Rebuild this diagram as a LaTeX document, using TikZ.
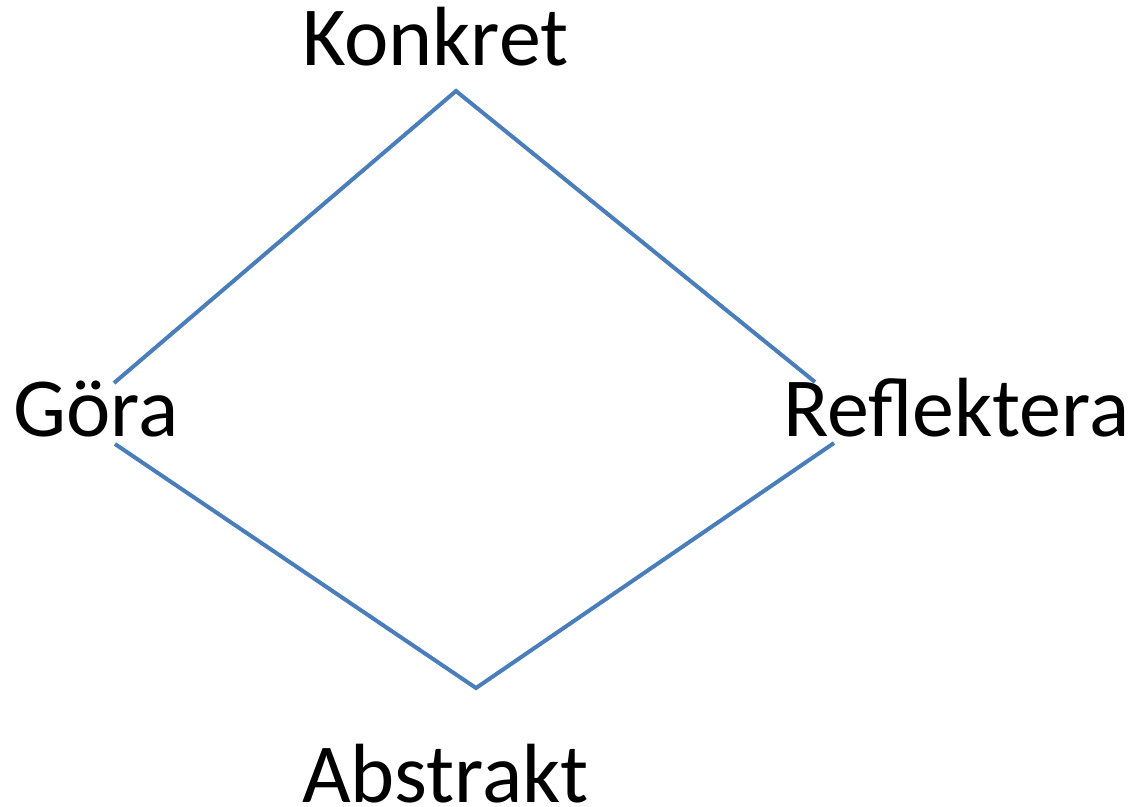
\documentclass[tikz,border=0pt]{standalone}
\usepackage{fontspec}
\setmainfont{Carlito}
\definecolor{lineblue}{HTML}{4A7EBB}
\begin{document}
\begin{tikzpicture}[x=1pt,y=-1pt,
  lbl/.style={inner sep=0pt, anchor=base west, font=\fontsize{84}{100}\selectfont},
  edge/.style={draw=lineblue, line width=4pt}]
\useasboundingbox (0,0) rectangle (1134,806);
\node[lbl] (konkret) at (302,65) {Konkret};
\node[lbl] (gora) at (13,436) {Göra};
\node[lbl] (refl) at (783,436) {Reflektera};
\node[lbl] (abstr) at (302,802) {Abstrakt};
\coordinate (top) at (456,91);
\coordinate (lt) at (114,383);
\coordinate (rt) at (815,382);
\coordinate (lb) at (115,444);
\coordinate (rb) at (834,443);
\coordinate (bot) at (476,688);
\draw[edge] (lt) -- (top) -- (rt);
\draw[edge] (lb) -- (bot) -- (rb);
\end{tikzpicture}
\end{document}
